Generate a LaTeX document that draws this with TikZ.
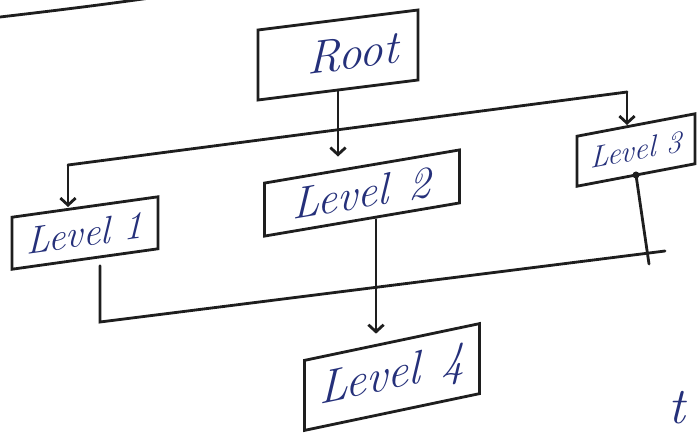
\documentclass[tikz,border=0pt]{standalone}
\usetikzlibrary{arrows.meta}
\definecolor{ink}{HTML}{1E1E1E}
\definecolor{pen}{HTML}{25307A}
\begin{document}
\begin{tikzpicture}[x=0.03cm,y=-0.03cm,
  box/.style={draw=ink, line width=2.4pt, inner sep=0pt, outer sep=0pt, text=pen},
  conn/.style={draw=ink, line width=2.4pt, line cap=round},
  arr/.style={conn, -{Straight Barb[length=6pt,width=13pt]}},
  hand/.style={font=\itshape\fontsize{#1}{#1}\selectfont}
]
\useasboundingbox (0,0) rectangle (697,434);
\clip (0,0) rectangle (697,434);

% boxes
\node[box, hand=40, yslant=0.125, minimum width=4.8cm, minimum height=2.1cm] (root) at (338,55) {\hspace*{0.9cm}Root};
\node[box, hand=33, yslant=0.14, minimum width=4.38cm, minimum height=1.56cm] (level1) at (85,233) {Level 1};
\node[box, hand=38, yslant=0.17, minimum width=5.85cm, minimum height=1.59cm] (level2) at (362,193) {Level\hspace{0.45em}2};
\node[box, hand=26, yslant=0.19, minimum width=3.54cm, minimum height=1.5cm] (level3) at (636,150) {Level 3};
\node[box, hand=40, yslant=0.21, minimum width=5.25cm, minimum height=2.1cm] (level4) at (392,377) {Level\hspace{0.45em}4};

% top bus
\coordinate (busL) at (68,165);
\coordinate (busR) at (627,92);
\draw[arr, shorten >=0.3cm] (root.south) -- (root.south |- level2.north);
\draw[conn] (busL) -- (busR);
\draw[arr] (busL) -- (busL |- level1.north);
\draw[arr] (busR) -- (busR |- level3.north);

% bottom bus
\coordinate (bl) at (100,322);
\coordinate (br) at (665,251);
\coordinate (bv) at (649,264);
\draw[conn, shorten <=0.2cm] (level1.south -| bl) -- (bl) -- (br);
\draw[conn] (level3.south) -- (bv);
\fill[ink] (level3.south) circle (3pt);

% level 2 to level 4
\coordinate (d4) at (376,0);
\draw[arr, shorten >=0.25cm] (level2.south -| d4) -- (level4.north -| d4);

% stray stroke top-left
\draw[conn] (0,17) .. controls (60,10) and (100,5) .. (150,-2);

% handwriting fragment bottom right
\node[hand=44, text=pen, anchor=west, inner sep=0pt] (frag) at (668,408) {t};
\end{tikzpicture}
\end{document}
